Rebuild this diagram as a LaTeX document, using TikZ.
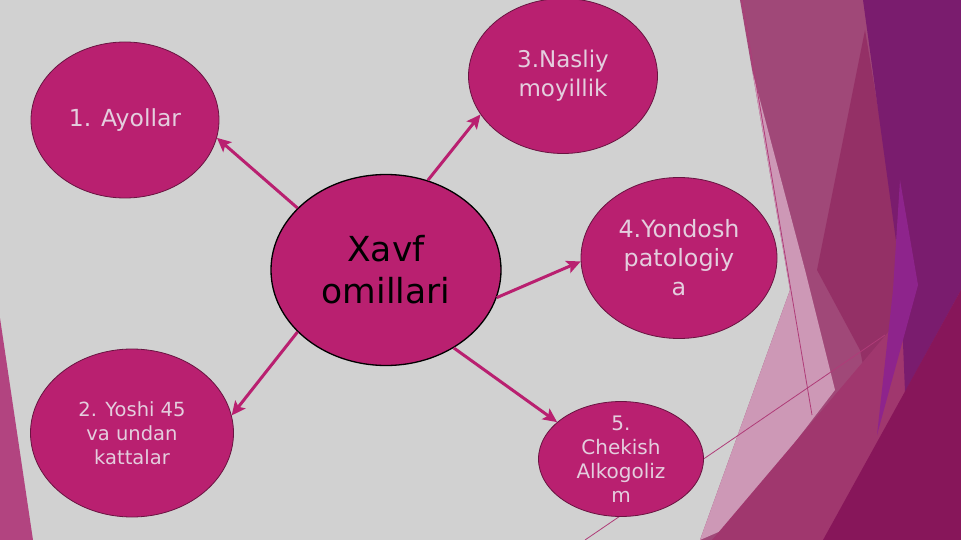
\documentclass[tikz,border=0pt]{standalone}
\usepackage{fontspec}
\setmainfont{DejaVu Sans}
\usetikzlibrary{arrows.meta,shapes.geometric}
\definecolor{bg}{RGB}{209,209,209}
\definecolor{mag}{RGB}{185,32,112}
\definecolor{magdark}{RGB}{105,20,65}
\definecolor{txtlight}{RGB}{228,206,222}
\definecolor{mauve}{RGB}{160,72,120}
\definecolor{lightpink}{RGB}{205,152,182}
\definecolor{dmag}{RGB}{148,48,102}
\definecolor{purp}{RGB}{122,28,110}
\definecolor{bpurp}{RGB}{142,36,140}
\definecolor{band}{RGB}{160,55,110}
\definecolor{darkest}{RGB}{135,22,90}
\definecolor{strip}{RGB}{178,68,128}
\definecolor{thinline}{RGB}{175,60,120}
\begin{document}
\begin{tikzpicture}[x=1pt,y=-1pt,
  ell/.style={ellipse,fill=mag,draw=magdark,line width=0.8pt,inner sep=0pt},
  txt/.style={align=center,text=txtlight,inner sep=0pt},
  conn/.style={draw=mag,line width=3pt,-{Stealth[length=14pt,width=13pt,inset=3pt]}},
  thin/.style={draw=thinline,line width=0.8pt}
]
\useasboundingbox (0,0) rectangle (961,540);
\fill[bg] (0,0) rectangle (961,540);
\fill[strip] (0,318) -- (33,540) -- (0,540) -- cycle;
\begin{scope}
\clip (740,0) -- (961,0) -- (961,540) -- (700,540) -- (790,290) -- cycle;
\fill[mauve] (700,0) rectangle (961,540);
\fill[lightpink] (752,70) -- (805,270) -- (835,390) -- (730,527) -- (700,540) -- (600,540) -- (600,70) -- cycle;
\fill[dmag] (865,30) -- (905,270) -- (877,435) -- (860,350) -- (817,270) -- cycle;
\fill[band] (712,540) -- (890,330) -- (961,285) -- (961,540) -- cycle;
\fill[purp] (863,0) -- (961,0) -- (961,290) -- (905,392) -- (900,270) -- cycle;
\fill[bpurp] (900,180) -- (918,285) -- (877,435) -- (893,290) -- cycle;
\fill[darkest] (823,540) -- (961,290) -- (961,540) -- cycle;
\end{scope}
\coordinate (l1a) at (742,0);
\coordinate (l1b) at (812,415);
\coordinate (l2a) at (585,540);
\coordinate (l2b) at (885,335);
\draw[thin] (l1a) -- (l1b);
\draw[thin] (l2a) -- (l2b);

\node[ell,minimum width=188pt,minimum height=156pt] (n1) at (125,120) {};
\node[ell,minimum width=189pt,minimum height=155pt] (n3) at (563,76) {};
\node[ell,draw=black,line width=1.3pt,minimum width=230pt,minimum height=191pt] (c) at (386,270) {};
\node[ell,minimum width=196pt,minimum height=161pt] (n4) at (679,258) {};
\node[ell,minimum width=203pt,minimum height=168pt] (n2) at (132,433) {};
\node[ell,minimum width=165pt,minimum height=115pt] (n5) at (621,459) {};

\node[txt,font=\fontsize{23.5}{28}\selectfont] (t1) at (n1) {1. Ayollar};
\node[txt,font=\fontsize{23}{29}\selectfont] (t3) at (n3) {3.Nasliy\\moyillik};
\node[txt,text=black,font=\fontsize{34.5}{42}\selectfont] (tc) at (c) {Xavf\\omillari};
\node[txt,font=\fontsize{23.8}{29}\selectfont] (t4) at (n4) {4.Yondosh\\patologiy\\a};
\node[txt,font=\fontsize{19.5}{24}\selectfont] (t2) at (n2) {2. Yoshi 45\\va undan\\kattalar};
\node[txt,font=\fontsize{20}{24}\selectfont] (t5) at (n5) {5.\\Chekish\\Alkogoliz\\m};

\draw[conn] (c.145) -- (n1.-11);
\draw[conn] (c.65) -- (n3.205);
\draw[conn] (c.-14) -- (n4.182);
\draw[conn] (c.215) -- (n2.10);
\draw[conn] (c.-49) -- (n5.150);
\end{tikzpicture}
\end{document}
